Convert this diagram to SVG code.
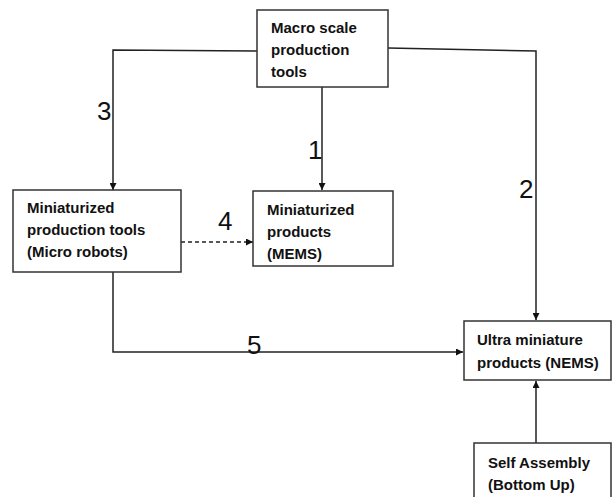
<svg xmlns="http://www.w3.org/2000/svg" width="613" height="497" viewBox="0 0 613 497">
<defs>
<marker id="ah" viewBox="0 0 10 10" refX="10" refY="5" markerWidth="7" markerHeight="7" markerUnits="userSpaceOnUse" orient="auto">
<path d="M0,0 L10,5 L0,10 z" fill="#111"/>
</marker>
<style>
.box{fill:#fff;stroke:#333;stroke-width:1.5}
.t{font-family:"Liberation Sans",Arial,sans-serif;font-weight:bold;font-size:15px;fill:#111}
.n{font-family:"Liberation Sans",Arial,sans-serif;font-size:26px;fill:#111}
.c{fill:none;stroke:#222;stroke-width:1.5}
</style>
</defs>
<rect width="613" height="497" fill="#fff"/>
<g id="connectors">
<path class="c" d="M257,51 L113,50 L113,190" marker-end="url(#ah)"/>
<path class="c" d="M322,87 L322,190" marker-end="url(#ah)"/>
<path class="c" d="M388,48 L536,51 L536,320" marker-end="url(#ah)"/>
<path class="c" d="M181,242 L253,242" stroke-dasharray="4,3" marker-end="url(#ah)"/>
<path class="c" d="M113,272 L113,352 L463,352" marker-end="url(#ah)"/>
<path class="c" d="M536,443 L536,381" marker-end="url(#ah)"/>
<text class="n" x="97" y="120">3</text>
<text class="n" x="308" y="159">1</text>
<text class="n" x="218" y="230">4</text>
<text class="n" x="519" y="198">2</text>
<text class="n" x="247" y="354">5</text>
</g>
<g id="macro">
<rect class="box" x="257" y="10" width="131" height="77"/>
<text class="t" x="271" y="33">Macro scale</text>
<text class="t" x="271" y="55">production</text>
<text class="t" x="271" y="77">tools</text>
</g>
<g id="mini-tools">
<rect class="box" x="13" y="190" width="168" height="82"/>
<text class="t" x="27" y="213">Miniaturized</text>
<text class="t" x="27" y="235">production tools</text>
<text class="t" x="27" y="257">(Micro robots)</text>
</g>
<g id="mini-products">
<rect class="box" x="253" y="191" width="140" height="75"/>
<text class="t" x="267" y="215">Miniaturized</text>
<text class="t" x="267" y="237">products</text>
<text class="t" x="267" y="259">(MEMS)</text>
</g>
<g id="ultra">
<rect class="box" x="464" y="321" width="147" height="59"/>
<text class="t" x="477" y="345">Ultra miniature</text>
<text class="t" x="477" y="368">products (NEMS)</text>
</g>
<g id="self-assembly">
<rect class="box" x="474" y="443" width="137" height="60"/>
<text class="t" x="488" y="468">Self Assembly</text>
<text class="t" x="488" y="490">(Bottom Up)</text>
</g>
</svg>
